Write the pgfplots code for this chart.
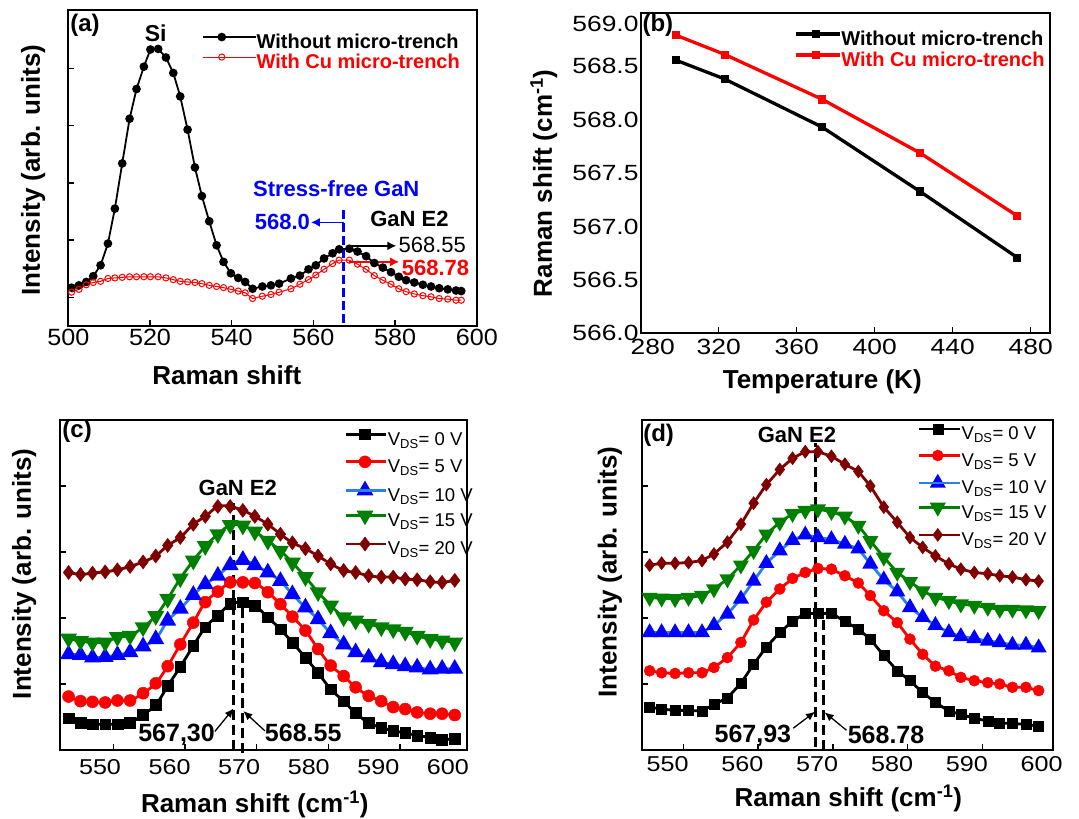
\documentclass[border=0pt]{standalone}
\usepackage{pgfplots}
\pgfplotsset{compat=1.18}
\usepackage{fontspec}
\setmainfont{Liberation Sans}
\newfontfamily\fa{Liberation Sans}[FakeStretch=1.07]
\newfontfamily\fb{Liberation Sans}[FakeStretch=1.2]
\newfontfamily\fc{Liberation Sans}[FakeStretch=1.17]
\usetikzlibrary{arrows.meta}
\newcommand{\fs}[1]{\fontsize{#1}{#1}\selectfont}
\definecolor{lblue}{RGB}{40,130,230}
\definecolor{mygreen}{RGB}{0,128,0}
\definecolor{dred}{RGB}{128,0,0}
\pgfplotsset{
 base/.style={
   scale only axis, clip=false, anchor=south west,
   axis line style={line width=1.8pt},
   tick align=inside, major tick length=6pt,
   tick style={black, line width=1.4pt},
   xtick pos=bottom, ytick pos=left,
   tick label style={font=\fa\fs{23.5}},
   /pgf/number format/assume math mode=true,
   label style={font=\bfseries\fs{26}},
   xlabel style={anchor=center}, ylabel style={anchor=center},
   legend style={draw=none, fill=none, inner sep=0pt, outer sep=0pt, column sep=0pt, anchor=north west},
   legend cell align=left,
 },
}
\begin{document}
\begin{tikzpicture}
\path[use as bounding box] (0,0) rectangle (1079pt,819pt);

% ---------------- (a)
\begin{axis}[base, at={(68.3pt,493pt)}, width=408.5pt, height=316pt,
 xmin=500, xmax=600, ymin=0, ymax=5.52,
 xtick={500,520,...,600}, ytick={0.5,1.5,2.5,3.5,4.5}, yticklabels={},
 xlabel={Raman shift}, ylabel={Intensity (arb. units)},
 xlabel style={at={(axis description cs:0.388,-0.155)}},
 ylabel style={at={(axis description cs:-0.086,0.494)}},
 legend style={at={(axis description cs:0.327,0.927)}, row sep=0pt, font=\bfseries\fs{20},
   nodes={inner sep=0pt, text height=15pt, text depth=5pt}},
 legend image code/.code={\draw[mark repeat=2,mark phase=2,#1] plot coordinates {(0pt,6pt)(19pt,6pt)(38pt,6pt)}; \path (0pt,6pt) -- (53pt,6pt);},
]
\addplot[black, line width=1.8pt, mark=*, mark size=3.4pt] coordinates {
(500.8,0.67)(502.6,0.71)(504.4,0.77)(506.1,0.87)(507.9,1.06)(509.7,1.44)(511.4,2.05)(513.2,2.84)(515.0,3.62)(516.7,4.14)(518.5,4.53)(520.1,4.83)(522.0,4.84)(523.9,4.69)(525.7,4.42)(527.4,4.01)(529.2,3.43)(531.0,2.77)(532.7,2.27)(534.5,1.83)(536.3,1.41)(538.0,1.12)(539.8,0.92)(541.6,0.84)(543.3,0.77)(545.1,0.65)(547.5,0.69)(549.6,0.71)(551.6,0.74)(554.5,0.83)(556.7,0.88)(558.8,0.99)(560.6,1.06)(562.6,1.18)(564.7,1.27)(566.3,1.34)(568.8,1.35)(570.8,1.30)(572.9,1.22)(574.9,1.10)(577.0,1.02)(579.0,0.94)(580.9,0.86)(582.7,0.80)(584.7,0.76)(586.8,0.72)(588.8,0.69)(590.8,0.66)(592.9,0.64)(594.9,0.62)(596.2,0.61)};
\addplot[red, line width=1pt, mark=o, mark size=3.1pt, mark options={fill=white}] coordinates {
(500.8,0.59)(502.6,0.64)(504.4,0.72)(506.1,0.76)(507.9,0.78)(509.7,0.83)(511.4,0.84)(513.2,0.85)(515.0,0.86)(516.7,0.86)(518.5,0.86)(520.1,0.86)(522.0,0.86)(523.9,0.84)(525.7,0.81)(527.4,0.78)(529.2,0.77)(531.0,0.76)(532.7,0.74)(534.5,0.71)(536.3,0.69)(538.0,0.67)(539.8,0.64)(541.6,0.61)(543.3,0.58)(545.1,0.48)(547.5,0.52)(549.6,0.55)(551.6,0.59)(554.5,0.65)(556.7,0.73)(558.8,0.81)(560.6,0.89)(562.6,0.99)(564.7,1.09)(566.3,1.15)(568.8,1.15)(570.8,1.08)(572.9,0.99)(574.9,0.88)(577.0,0.80)(579.0,0.73)(580.9,0.65)(582.7,0.60)(584.7,0.56)(586.8,0.53)(588.8,0.51)(590.8,0.48)(592.9,0.47)(594.9,0.45)(596.2,0.45)};
\legend{Without micro-trench, \textcolor{red}{With Cu micro-trench}}
\node[font=\bfseries\fs{24}] at (axis description cs:0.041,0.953) {(a)};
\node[font=\bfseries\fs{23}] at (axis cs:521.4,5.12) {Si};
\draw[blue, line width=2.5pt, dash pattern=on 9pt off 4pt] (axis cs:567.4,0.06) -- (axis cs:567.4,2.09);
\node[blue, font=\bfseries\fs{22}] at (axis cs:565.6,2.40) {Stress-free GaN};
\draw[blue, line width=1.6pt, -{Latex[length=9pt,width=9pt]}] (axis cs:567.4,1.81) -- (axis cs:559.4,1.81);
\node[blue, font=\bfseries\fs{22}, anchor=east, inner sep=0pt] at (axis cs:559.2,1.81) {568.0};
\node[font=\bfseries\fs{22}] at (axis cs:583.5,1.87) {GaN E2};
\draw[black, line width=1.6pt, -{Latex[length=9pt,width=9pt]}] (axis cs:568.8,1.40) -- (axis cs:580.3,1.40);
\node[font=\fs{22}, anchor=west, inner sep=0pt] at (axis cs:580.8,1.41) {568.55};
\draw[red, line width=1.6pt, -{Latex[length=9pt,width=9pt]}] (axis cs:568.8,1.12) -- (axis cs:581.0,1.12);
\node[red, font=\bfseries\fs{22}, anchor=west, inner sep=0pt] at (axis cs:581.6,1.02) {568.78};
\end{axis}

% ---------------- (b)
\begin{axis}[base, at={(640.7pt,485.7pt)}, width=408.9pt, height=320.6pt,
 xmin=280, xmax=489.7, ymin=566, ymax=569,
 tick label style={font=\fb\fs{22}},
 xtick={320,360,...,480}, extra x ticks={280}, extra x tick style={xticklabel style={xshift=12pt}},
 ytick={566,566.5,...,568.5}, extra y ticks={569},
 extra y tick style={yticklabel style={yshift=-11pt}},
 ytick style={draw=none},
 xticklabel style={yshift=-2pt},
 yticklabel style={inner xsep=2pt, /pgf/number format/.cd, fixed, fixed zerofill, precision=1, /tikz/.cd},
 xlabel={Temperature (K)}, ylabel={Raman shift (cm\textsuperscript{-1})},
 xlabel style={at={(axis description cs:0.444,-0.151)}},
 ylabel style={at={(axis description cs:-0.237,0.468)}},
 legend style={at={(axis description cs:0.375,0.946)}, row sep=1pt, font=\bfseries\fs{20},
   nodes={inner sep=0pt, text height=15pt, text depth=5pt}},
 legend image code/.code={\draw[mark repeat=2,mark phase=2,#1] plot coordinates {(0pt,6pt)(20pt,6pt)(40pt,6pt)}; \path (0pt,6pt) -- (44pt,6pt);},
]
\addplot[black, line width=3.3pt, mark=square*, mark size=3.6pt, mark options={line width=0.5pt}] coordinates {
(298,568.556)(323,568.38)(373,567.93)(423,567.33)(473,566.71)};
\addplot[red, line width=3.3pt, mark=square*, mark size=3.6pt, mark options={line width=0.5pt}] coordinates {
(298,568.79)(323,568.61)(373,568.19)(423,567.69)(473,567.10)};
\legend{Without micro-trench, \textcolor{red}{With Cu micro-trench}}
\node[font=\bfseries\fs{24}] at (axis description cs:0.042,0.962) {(b)};
\end{axis}

% ---------------- (c)
\begin{axis}[base, at={(60pt,69pt)}, width=406.7pt, height=330pt,
 xmin=544.25, xmax=602.7, ymin=0, ymax=5,
 tick label style={font=\fc\fs{21.5}},
 xticklabel style={yshift=-6pt},
 xtick={550,560,...,600}, xtick style={draw=none},
 extra x ticks={551.9,562.2,572.5,582.8,593.1}, extra x tick labels={},
 extra x tick style={xtick style={draw=black}},
 ytick={1,2,3,4}, yticklabels={},
 xlabel={Raman shift (cm\textsuperscript{-1})}, ylabel={Intensity (arb. units)},
 xlabel style={at={(axis description cs:0.479,-0.165)}},
 ylabel style={at={(axis description cs:-0.088,0.534)}},
 legend style={at={(axis description cs:0.701,0.973)}, row sep=6.3pt, font=\fs{18.5},
   nodes={inner sep=0pt, text height=14pt, text depth=4.5pt}},
 legend image code/.code={\draw[mark repeat=2,mark phase=2,#1] plot coordinates {(0pt,6pt)(18.5pt,6pt)(37pt,6pt)}; \path (0pt,6pt) -- (40pt,6pt);},
 every axis plot/.append style={line width=2.8pt, mark options={solid, line width=0.5pt}},
]
\addplot[black, smooth, mark=square*, mark size=5.4pt] coordinates {
(545.48,0.48)(547.20,0.41)(548.92,0.39)(550.74,0.39)(552.50,0.39)(554.32,0.41)(556.19,0.54)(558.01,0.68)(559.73,0.97)(561.54,1.26)(563.41,1.58)(565.13,1.86)(566.94,2.04)(568.71,2.21)(570.53,2.24)(572.25,2.19)(574.12,2.01)(575.93,1.83)(577.65,1.63)(579.52,1.40)(581.34,1.17)(583.15,0.92)(585.02,0.74)(586.74,0.56)(588.61,0.41)(590.42,0.34)(592.14,0.29)(593.86,0.26)(595.58,0.22)(597.45,0.19)(599.17,0.16)(600.98,0.17)};
\addplot[red, smooth, mark=*, mark size=6pt] coordinates {
(545.48,0.81)(547.20,0.74)(548.92,0.73)(550.74,0.72)(552.50,0.75)(554.32,0.75)(556.19,0.86)(558.01,1.01)(559.73,1.27)(561.54,1.60)(563.41,1.93)(565.13,2.24)(566.94,2.40)(568.71,2.54)(570.53,2.54)(572.25,2.53)(574.12,2.39)(575.93,2.21)(577.65,2.02)(579.52,1.81)(581.34,1.53)(583.15,1.28)(585.02,1.12)(586.74,0.95)(588.61,0.82)(590.42,0.74)(592.14,0.65)(593.86,0.62)(595.58,0.57)(597.45,0.55)(599.17,0.55)(600.98,0.53)};
\addplot[lblue, smooth, mark=triangle*, mark size=7pt, mark options={fill=blue, draw=blue}] coordinates {
(545.48,1.45)(547.20,1.44)(548.92,1.40)(550.74,1.41)(552.50,1.44)(554.32,1.48)(556.19,1.57)(558.01,1.68)(559.73,1.96)(561.54,2.14)(563.41,2.35)(565.13,2.51)(566.94,2.64)(568.71,2.80)(570.53,2.88)(572.25,2.80)(574.12,2.69)(575.93,2.56)(577.65,2.36)(579.52,2.16)(581.34,1.98)(583.15,1.77)(585.02,1.60)(586.74,1.48)(588.61,1.40)(590.42,1.33)(592.14,1.30)(593.86,1.27)(595.58,1.25)(597.45,1.22)(599.17,1.23)(600.98,1.23)};
\addplot[mygreen, smooth, mark=triangle*, mark size=7pt, mark options={rotate=180}] coordinates {
(545.48,1.69)(547.20,1.65)(548.92,1.63)(550.74,1.63)(552.50,1.71)(554.32,1.73)(556.19,1.86)(558.01,2.03)(559.73,2.29)(561.54,2.60)(563.41,2.87)(565.13,3.09)(566.94,3.27)(568.71,3.41)(570.53,3.40)(572.25,3.31)(574.12,3.17)(575.93,3.02)(577.65,2.84)(579.52,2.62)(581.34,2.39)(583.15,2.19)(585.02,2.01)(586.74,1.96)(588.61,1.91)(590.42,1.86)(592.14,1.83)(593.86,1.79)(595.58,1.73)(597.45,1.68)(599.17,1.66)(600.98,1.63)};
\addplot[dred, smooth, mark=diamond*, mark size=7pt] coordinates {
(545.48,2.69)(547.20,2.66)(548.92,2.68)(550.74,2.70)(552.50,2.73)(554.32,2.78)(556.19,2.85)(558.01,2.94)(559.73,3.10)(561.54,3.22)(563.41,3.42)(565.13,3.54)(566.94,3.69)(568.71,3.69)(570.53,3.63)(572.25,3.54)(574.12,3.42)(575.93,3.27)(577.65,3.14)(579.52,3.05)(581.34,2.94)(583.15,2.82)(585.02,2.72)(586.74,2.69)(588.61,2.64)(590.42,2.62)(592.14,2.62)(593.86,2.59)(595.58,2.58)(597.45,2.55)(599.17,2.54)(600.98,2.57)};
\legend{V\textsubscript{DS}= 0 V, V\textsubscript{DS}= 5 V, V\textsubscript{DS}= 10 V, V\textsubscript{DS}= 15 V, V\textsubscript{DS}= 20 V}
\node[font=\bfseries\fs{24}] at (axis description cs:0.042,0.965) {(c)};
\draw[black, line width=2.6pt, dash pattern=on 10pt off 5pt] (axis cs:569.2,0) -- (axis cs:569.2,3.74);
\draw[black, line width=2.6pt, dash pattern=on 10pt off 5pt] (axis cs:570.5,-0.05) -- (axis cs:570.5,2.24);
\node[font=\bfseries\fs{22}] at (axis cs:569.8,3.97) {GaN E2};
\node[font=\bfseries\fs{25}] at (axis cs:561.0,0.23) {567,30};
\node[font=\bfseries\fs{25}] at (axis cs:579.2,0.26) {568.55};
\draw[black, line width=1.3pt, -{Latex[length=9pt,width=8pt]}] (axis cs:566.5,0.28) -- (axis cs:569.2,0.63);
\draw[black, line width=1.3pt, -{Latex[length=9pt,width=8pt]}] (axis cs:573.7,0.29) -- (axis cs:570.6,0.59);
\end{axis}

% ---------------- (d)
\begin{axis}[base, at={(641.7pt,69pt)}, width=411.6pt, height=330pt,
 xmin=546.54, xmax=601.56, ymin=0, ymax=5,
 tick label style={font=\fc\fs{21.5}},
 xticklabel style={yshift=-3pt},
 xtick={550,560,...,600}, xtick style={draw=none},
 extra x ticks={552.1,562.1,572.1,582.1,592.1}, extra x tick labels={},
 extra x tick style={xtick style={draw=black}},
 ytick={1,2,3,4}, yticklabels={},
 xlabel={Raman shift (cm\textsuperscript{-1})}, ylabel={Intensity (arb. units)},
 xlabel style={at={(axis description cs:0.502,-0.146)}},
 ylabel style={at={(axis description cs:-0.077,0.540)}},
 legend style={at={(axis description cs:0.671,0.988)}, row sep=5.8pt, font=\fs{18.5},
   nodes={inner sep=0pt, text height=14pt, text depth=4.5pt}},
 legend image code/.code={\draw[mark repeat=2,mark phase=2,#1] plot coordinates {(0pt,6pt)(18.5pt,6pt)(37pt,6pt)}; \path (0pt,6pt) -- (41pt,6pt);},
 every axis plot/.append style={line width=2.8pt, mark options={solid, line width=0.5pt}},
]
\addplot[black, mark=square*, mark size=5pt] coordinates {
(547.6,0.65)(549.2,0.62)(551.0,0.60)(552.8,0.60)(554.6,0.59)(556.2,0.69)(558.0,0.79)(559.8,1.01)(561.5,1.30)(563.2,1.56)(565.0,1.78)(566.7,1.95)(568.4,2.07)(570.1,2.07)(571.9,2.07)(573.7,1.95)(575.5,1.83)(577.1,1.68)(578.9,1.43)(580.7,1.20)(582.4,1.05)(584.1,0.87)(585.8,0.72)(587.6,0.59)(589.2,0.54)(591.0,0.48)(592.8,0.44)(594.4,0.41)(596.1,0.40)(597.9,0.39)(599.6,0.36)};
\addplot[red, mark=*, mark size=5.5pt] coordinates {
(547.6,1.20)(549.2,1.17)(551.0,1.16)(552.8,1.17)(554.6,1.17)(556.2,1.25)(558.0,1.40)(559.8,1.63)(561.5,1.97)(563.2,2.24)(565.0,2.44)(566.7,2.60)(568.4,2.69)(570.1,2.75)(571.9,2.74)(573.7,2.64)(575.5,2.53)(577.1,2.34)(578.9,2.11)(580.7,1.93)(582.4,1.68)(584.1,1.45)(585.8,1.27)(587.6,1.20)(589.2,1.10)(591.0,1.05)(592.8,1.02)(594.4,1.00)(596.1,0.95)(597.9,0.95)(599.6,0.90)};
\addplot[lblue, mark=triangle*, mark size=6.5pt, mark options={fill=blue, draw=blue}] coordinates {
(547.6,1.78)(549.2,1.78)(551.0,1.78)(552.8,1.78)(554.6,1.78)(556.2,1.89)(558.0,2.06)(559.8,2.29)(561.5,2.56)(563.2,2.83)(565.0,3.02)(566.7,3.18)(568.4,3.26)(570.1,3.22)(571.9,3.19)(573.7,3.12)(575.5,3.05)(577.1,2.82)(578.9,2.58)(580.7,2.40)(582.4,2.16)(584.1,2.01)(585.8,1.89)(587.6,1.78)(589.2,1.72)(591.0,1.69)(592.8,1.65)(594.4,1.63)(596.1,1.59)(597.9,1.59)(599.6,1.55)};
\addplot[mygreen, mark=triangle*, mark size=6.5pt, mark options={rotate=180}] coordinates {
(547.6,2.31)(549.2,2.30)(551.0,2.29)(552.8,2.31)(554.6,2.34)(556.2,2.44)(558.0,2.59)(559.8,2.80)(561.5,3.02)(563.2,3.27)(565.0,3.45)(566.7,3.58)(568.4,3.63)(570.1,3.65)(571.9,3.61)(573.7,3.54)(575.5,3.40)(577.1,3.17)(578.9,2.92)(580.7,2.69)(582.4,2.55)(584.1,2.41)(585.8,2.31)(587.6,2.26)(589.2,2.21)(591.0,2.19)(592.8,2.16)(594.4,2.13)(596.1,2.13)(597.9,2.12)(599.6,2.11)};
\addplot[dred, mark=diamond*, mark size=6.5pt] coordinates {
(547.6,2.80)(549.2,2.83)(551.0,2.83)(552.8,2.84)(554.6,2.87)(556.2,2.97)(558.0,3.15)(559.8,3.42)(561.5,3.74)(563.2,4.02)(565.0,4.25)(566.7,4.42)(568.4,4.52)(570.1,4.52)(571.9,4.45)(573.7,4.33)(575.5,4.22)(577.1,4.00)(578.9,3.68)(580.7,3.45)(582.4,3.22)(584.1,3.07)(585.8,2.94)(587.6,2.82)(589.2,2.74)(591.0,2.69)(592.8,2.67)(594.4,2.64)(596.1,2.62)(597.9,2.58)(599.6,2.56)};
\legend{V\textsubscript{DS}= 0 V, V\textsubscript{DS}= 5 V, V\textsubscript{DS}= 10 V, V\textsubscript{DS}= 15 V, V\textsubscript{DS}= 20 V}
\node[font=\bfseries\fs{24}] at (axis description cs:0.041,0.955) {(d)};
\draw[black, line width=2.6pt, dash pattern=on 10pt off 5pt] (axis cs:569.74,0.05) -- (axis cs:569.74,4.65);
\draw[black, line width=2.6pt, dash pattern=on 10pt off 5pt] (axis cs:570.85,0) -- (axis cs:570.85,2.07);
\node[font=\bfseries\fs{22}] at (axis cs:567.3,4.78) {GaN E2};
\node[font=\bfseries\fs{25}] at (axis cs:561.4,0.21) {567,93};
\node[font=\bfseries\fs{25}] at (axis cs:579.2,0.23) {568.78};
\draw[black, line width=1.3pt, -{Latex[length=9pt,width=8pt]}] (axis cs:566.8,0.33) -- (axis cs:569.7,0.58);
\draw[black, line width=1.3pt, -{Latex[length=9pt,width=8pt]}] (axis cs:573.9,0.30) -- (axis cs:571.0,0.57);
\end{axis}
\end{tikzpicture}
\end{document}
